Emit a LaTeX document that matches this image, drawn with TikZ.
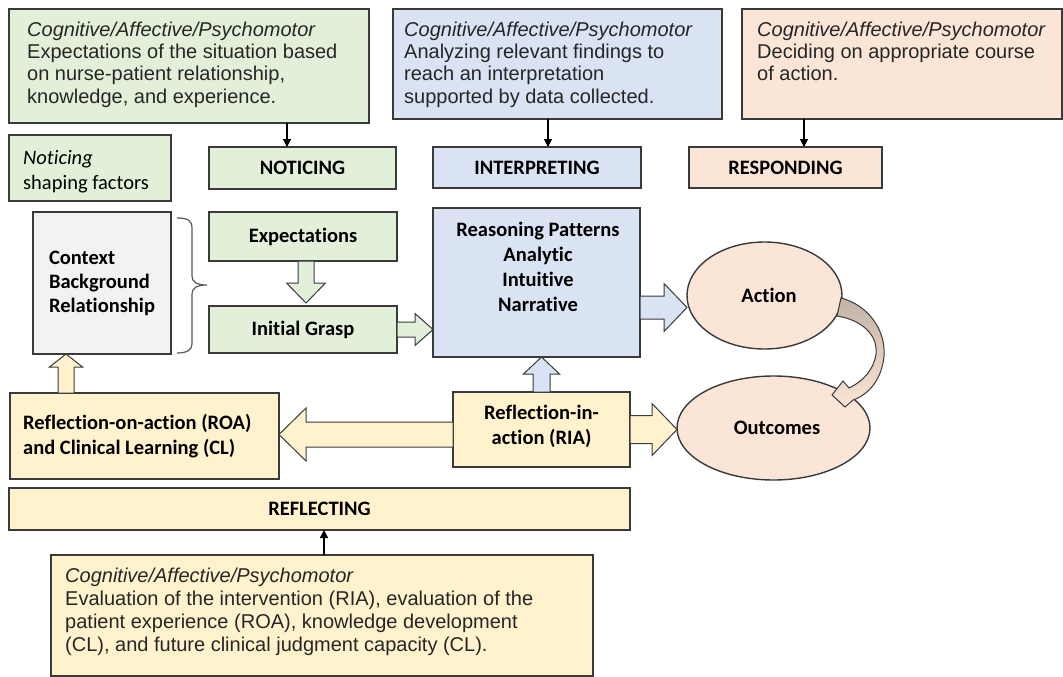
\documentclass[tikz,border=0pt]{standalone}
\usepackage{fontspec}
\setmainfont{Liberation Sans}
\newfontfamily\carl[Ligatures=NoCommon]{Carlito}
\usetikzlibrary{arrows.meta,shapes.geometric,calc}

\definecolor{gfill}{HTML}{E2F0D9}
\definecolor{bfill}{HTML}{DAE3F3}
\definecolor{pfill}{HTML}{FBE5D6}
\definecolor{yfill}{HTML}{FFF2CC}
\definecolor{cfill}{HTML}{F2F2F2}
\definecolor{edge}{HTML}{3A3A3A}
\definecolor{txt}{HTML}{262626}
\definecolor{curvetop}{HTML}{C2B3A5}
\definecolor{curvemid}{HTML}{D9C7B8}

% #1 style, #2 start, #3 tip, #4 shaft half width, #5 head half width, #6 head length
\newcommand\blockarrow[6]{%
  \coordinate (baC) at ($(#3)!#6!(#2)$);
  \draw[barr,#1] ($(#2)!#4!90:(#3)$) -- ($(baC)!#4!-90:(#2)$) -- ($(baC)!#5!-90:(#2)$) -- (#3)
    -- ($(baC)!#5!90:(#2)$) -- ($(baC)!#4!90:(#2)$) -- ($(#2)!#4!-90:(#3)$) -- cycle;%
}

\tikzset{
  box/.style={draw=edge, line width=1.4pt, rectangle, inner sep=0pt, outer sep=0pt, anchor=north west},
  lab/.style={font=\carl\bfseries\fontsize{20.5}{25}\selectfont, text=black},
  labr/.style={font=\carl\fontsize{20.5}{25}\selectfont, text=black},
  body/.style={font=\fontsize{20}{22.3}\selectfont, align=left, inner sep=0pt, anchor=north west, text=txt},
  thinarrow/.style={draw=black, line width=1.2pt, -{Triangle[length=8pt,width=8pt]}},
  barr/.style={draw=edge, line width=1pt, line join=miter},
}

\begin{document}
\begin{tikzpicture}[x=1pt,y=-1pt]
\useasboundingbox[fill=white] (0,0) rectangle (1063,677);

% ---- top description boxes
\node[box, fill=gfill, minimum width=360pt, minimum height=114pt] (g1) at (9,9) {};
\node[body] (g1t) at (27,20.4) {\strut\textit{Cognitive/Affective/Psychomotor}\\Expectations of the situation based\\on nurse-patient relationship,\\knowledge, and experience.};

\node[box, fill=bfill, minimum width=329pt, minimum height=110pt] (b1) at (393,9) {};
\node[body] (b1t) at (404,20.4) {\strut\textit{Cognitive/Affective/Psychomotor}\\Analyzing relevant findings to\\reach an interpretation\\supported by data collected.};

\node[box, fill=pfill, minimum width=320pt, minimum height=110pt] (o1) at (742,9) {};
\node[body] (o1t) at (757,20.4) {\strut\textit{Cognitive/Affective/Psychomotor}\\Deciding on appropriate course\\of action.};

% ---- phase labels
\node[box, fill=gfill, minimum width=162pt, minimum height=66pt] (nsf) at (9,135) {};
\node[labr, align=left, inner sep=0pt, anchor=north west] (nsft) at (23,146.5) {\strut\textit{Noticing}\\shaping factors};

\node[box, fill=gfill, minimum width=187pt, minimum height=42pt, lab] (noticing) at (209,147) {NOTICING};
\node[box, fill=bfill, minimum width=208pt, minimum height=41pt, lab] (interp) at (433,147) {INTERPRETING};
\node[box, fill=pfill, minimum width=193pt, minimum height=41pt, lab] (resp) at (689,147) {RESPONDING};

% ---- middle row
\node[box, fill=cfill, minimum width=138pt, minimum height=142pt, lab, font=\carl\bfseries\fontsize{20.5}{24}\selectfont, align=left] (ctx) at (33,212) {Context\\Background\\Relationship};
\node[box, fill=gfill, minimum width=188pt, minimum height=49pt, lab] (exp) at (209,212) {Expectations\hspace{8pt}};
\node[box, fill=gfill, minimum width=188pt, minimum height=47pt, lab] (ig) at (209,306) {Initial Grasp\hspace{14pt}};

\node[box, fill=bfill, minimum width=207pt, minimum height=149pt] (rp) at (433,208) {};
\node[lab, align=center, inner sep=0pt, anchor=north] (rpt) at (538,218.5) {\strut Reasoning Patterns\\Analytic\\Intuitive\\Narrative};

\node[ellipse, draw=edge, line width=1.4pt, fill=pfill, minimum width=155pt, minimum height=107pt, inner sep=0pt, outer sep=0pt, lab] (act) at (764.5,295.5) {\hspace{9pt}Action};
\node[ellipse, draw=edge, line width=1.4pt, fill=pfill, minimum width=193pt, minimum height=104pt, inner sep=0pt, outer sep=0pt, lab] (out) at (773.5,428) {\hspace{7pt}Outcomes};

% ---- reflection row
\node[box, fill=yfill, minimum width=269pt, minimum height=86pt] (roa) at (10,393) {};
\node[lab, align=left, inner sep=0pt, anchor=west] (roat) at (23,436) {Reflection-on-action (ROA)\\and Clinical Learning (CL)};
\node[box, fill=yfill, minimum width=177pt, minimum height=75pt] (ria) at (453,392) {};
\node[lab, align=center, inner sep=0pt] (riat) at (541.5,426.5) {Reflection-in-\\action (RIA)};

\node[box, fill=yfill, minimum width=621pt, minimum height=42pt, lab] (refl) at (9,488) {REFLECTING};
\node[box, fill=yfill, minimum width=542pt, minimum height=121pt] (bot) at (51,555) {};
\node[body, font=\fontsize{20}{23}\selectfont] (bott) at (65,565.9) {\strut\textit{Cognitive/Affective/Psychomotor}\\Evaluation of the intervention (RIA), evaluation of the\\patient experience (ROA), knowledge development\\(CL), and future clinical judgment capacity (CL).};

% ---- thin arrows
\coordinate (ax1) at (287,0);
\coordinate (ax2) at (548,0);
\coordinate (ax3) at (804,0);
\coordinate (ax4) at (324,0);
\draw[thinarrow] (g1.south -| ax1) -- (noticing.north -| ax1);
\draw[thinarrow] (b1.south -| ax2) -- (interp.north -| ax2);
\draw[thinarrow] (o1.south -| ax3) -- (resp.north -| ax3);
\draw[thinarrow] (bot.north -| ax4) -- (refl.south -| ax4);

% ---- brace
\draw[draw=edge!85, line width=1.2pt] ($(ctx.north east)+(6,6)$) .. controls (187,218) and (192,220) .. (192,228) -- (192,276)
  .. controls (192,282) and (197,285) .. (207,285) .. controls (197,285) and (192,288) .. (192,294) -- (192,344)
  .. controls (192,350) and (187,353) .. ($(ctx.south east)+(6,-1)$);

% ---- block arrows
\coordinate (a1s) at ($(exp.south)+(3,0)$);
\coordinate (a1t) at ($(ig.north)+(3,-3)$);
\coordinate (a2s) at (ig.east);
\coordinate (a2t) at (ig.east -| rp.west);
\coordinate (a3s) at ($(rp.east)+(0,25)$);
\coordinate (a3t) at (a3s -| act.west);
\coordinate (a4s) at ($(roa.north west)+(56,0)$);
\coordinate (a4t) at (a4s |- ctx.south);
\coordinate (a5s) at ($(ria.west)+(0,5)$);
\coordinate (a5t) at (a5s -| roa.east);
\coordinate (a6s) at (ria.north);
\coordinate (a6t) at (ria.north |- rp.south);
\coordinate (a7s) at (ria.east);
\coordinate (a7t) at (ria.east -| out.west);

\blockarrow{fill=gfill}{a1s}{a1t}{8pt}{19.5pt}{20pt}
\blockarrow{fill=gfill}{a2s}{a2t}{7.5pt}{16pt}{18pt}
\blockarrow{fill=bfill}{a3s}{a3t}{11.5pt}{24pt}{23pt}
\blockarrow{fill=yfill}{a4s}{a4t}{8pt}{16.5pt}{13pt}
\blockarrow{fill=yfill}{a5s}{a5t}{12.5pt}{26.5pt}{27pt}
\blockarrow{fill=bfill}{a6s}{a6t}{8.5pt}{18pt}{17pt}
\blockarrow{fill=yfill}{a7s}{a7t}{14pt}{26pt}{25pt}

% ---- curved arrow Action -> Outcomes
\coordinate (cs1) at ($(act.east)+(-1,2.5)$);
\coordinate (cs2) at ($(act.east)+(-5,20.5)$);
\coordinate (ctip) at ($(out.center)+(58.5,-33)$);
\path[draw=edge, line width=1pt, top color=curvetop, middle color=curvemid, bottom color=pfill]
  (cs1) .. controls (868,305) and (886,330) .. (884,356) .. controls (882,378) and (870,394) .. (853,400)
  -- (845,407) -- (ctip) -- (843,381) -- (849,388)
  .. controls (862,382) and (874,370) .. (876,354) .. controls (878,335) and (862,320) .. (cs2) -- cycle;
\end{tikzpicture}
\end{document}
